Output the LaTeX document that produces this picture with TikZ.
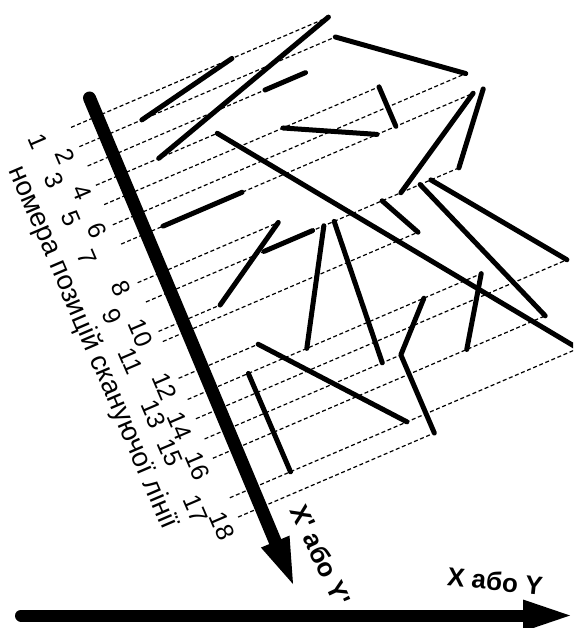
\documentclass[tikz,border=0pt]{standalone}
\usepackage{fontspec}
\setmainfont{Liberation Sans}
\usetikzlibrary{calc}
\begin{document}
\begin{tikzpicture}[x=1pt,y=-1pt,
  seg/.style={line width=5pt, line cap=round, line join=round},
  scan/.style={line width=1.2pt, dash pattern=on 4pt off 2.6pt},
  num/.style={font=\fontsize{25}{25}\selectfont, rotate=-66.8, inner sep=0pt},
  lab/.style={font=\fontsize{27.5}{27.5}\selectfont, rotate=-66.8, inner sep=0pt},
  axlab/.style={font=\fontsize{26}{26}\selectfont\bfseries, inner sep=0pt}]
\useasboundingbox (0,0) rectangle (573,628);
\clip (0,0) rectangle (573,628);
\begin{scope}[shift={(72,127)}, rotate=23.2]
  % starts of the scan lines
  \foreach \k/\t in {1/0,2/21,3/42,4/63,5/84,6/106,7/127,8/169,9/190,10/222,11/233,12/273,13/296,14/317,15/339,16/360,17/403,18/424}
    \coordinate (d\k) at (-1,\t);
  % segment end points
  \coordinate (s1a) at (174,0);    \coordinate (s1b) at (67,21);
  \coordinate (s2a) at (279,0);    \coordinate (s2b) at (67.4,63);
  \coordinate (s3a) at (236,42);   \coordinate (s3b) at (192,42);
  \coordinate (s4a) at (277.5,21); \coordinate (s4b) at (383,106);
  \coordinate (s5a) at (298,84);   \coordinate (s5b) at (298,127);
  \coordinate (s6a) at (193.5,84); \coordinate (s6b) at (277.5,127);
  \coordinate (s7a) at (131,63);   \coordinate (s7b) at (378,403);
  \coordinate (s8a) at (382,127);  \coordinate (s8b) at (276.4,190);
  \coordinate (s9a) at (393,127);  \coordinate (s9b) at (339.5,190);
  \coordinate (s10a) at (256,190); \coordinate (s10b) at (276.6,233);
  \coordinate (s11a) at (297.3,190); \coordinate (s11b) at (360.6,360);
  \coordinate (s12a) at (309,190); \coordinate (s12b) at (402.6,317);
  \coordinate (s13a) at (44.6,127); \coordinate (s13b) at (130.6,127);
  \coordinate (s14a) at (152,169); \coordinate (s14b) at (66,222);
  \coordinate (s15a) at (127.4,190); \coordinate (s15b) at (180.4,190);
  \coordinate (s16a) at (192.6,190); \coordinate (s16b) at (128.6,296);
  \coordinate (s17a) at (203.8,190); \coordinate (s17b) at (192.3,339);
  \coordinate (s18a) at (256,296); \coordinate (s18m) at (212.5,339); \coordinate (s18b) at (212.5,424);
  \coordinate (s19a) at (318.4,296); \coordinate (s19b) at (275.2,360);
  \coordinate (s20a) at (85.5,273); \coordinate (s20b) at (191.7,403);
  \coordinate (s21a) at (65,296);  \coordinate (s21b) at (65,403);
  % position numbers
  \foreach \k/\s/\t in {1/-37/0,2/-18/24,3/-37/42,4/-16/64,5/-37/84,6/-18/105,7/-37/126,8/-18/168,9/-38/190,10/-18/216,11/-38/238,12/-17/275,13/-38/296,14/-19/317,15/-38/338,16/-18/361,17/-37/400,18/-19/426}
    \node[num] (n\k) at (\s,\t) {\k};
  \node[lab] (lbl) at (-68,211) {номера позицій скануючої лінії};
\end{scope}
% dashed scan lines
\foreach \k/\e in {1/s2a,2/s4a,3/s3a,4/s7a,5/s5a,6/s4b,7/s8a,8/s14a,9/s9b,10/s14b,11/s10b,12/s20a,13/s19a,14/s12b,15/s18m,16/s11b,17/s7b,18/s18b}
  \draw[scan] (d\k) -- (\e);
% vertical axis X' or Y'
\coordinate (axA) at (89.5,98);
\coordinate (axT) at (293,584);
\coordinate (axB) at ($(axT)!46pt!(axA)$);
\coordinate (axL) at ($(axB)!15.5pt!90:(axT)$);
\coordinate (axR) at ($(axB)!15.5pt!-90:(axT)$);
\draw[line width=13pt, line cap=round] (axA) -- (axB);
\fill (axL) -- (axT) -- (axR) -- cycle;
% segments
\foreach \a/\b in {s1a/s1b,s2a/s2b,s3a/s3b,s4a/s4b,s5a/s5b,s6a/s6b,s7a/s7b,s8a/s8b,s9a/s9b,s10a/s10b,s11a/s11b,s12a/s12b,s13a/s13b,s14a/s14b,s15a/s15b,s16a/s16b,s17a/s17b,s19a/s19b,s20a/s20b,s21a/s21b}
  \draw[seg] (\a) -- (\b);
\draw[seg] (s18a) -- (s18m) -- (s18b);
% horizontal axis X or Y
\coordinate (hxA) at (21,615.5);
\coordinate (hxB) at (523,615.5);
\coordinate (hxT) at (570,615.5);
\draw[line width=12pt, line cap=round] (hxA) -- (hxB);
\fill (523,599.5) -- (hxT) -- (523,631.5) -- cycle;
% axis labels
\node[axlab, rotate=-65] (vlab) at (321,555) {X\textquotesingle{} або Y\textquotesingle};
\node[axlab, rotate=-6] (hlab) at (495,581) {X або Y};
\end{tikzpicture}
\end{document}
